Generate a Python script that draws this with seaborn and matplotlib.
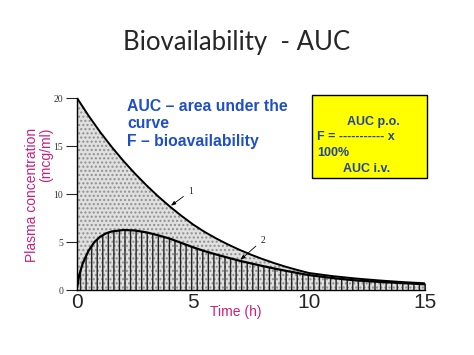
import matplotlib.pyplot as plt
import matplotlib.patches as mpatches
import pandas as pd
import seaborn as sns

# curve 1: i.v. dose, curve 2: p.o. dose
time_iv = [0, 0.5, 1, 1.5, 2, 2.5, 3, 3.5, 4, 4.5, 5, 5.5, 6, 6.5, 7, 7.5, 8, 8.5, 9, 9.5, 10,
           11, 12, 13, 14, 15]
conc_iv = [20, 18.15, 16.45, 14.89, 13.45, 12.12, 10.89, 9.75, 8.7, 7.73, 6.83, 6.05, 5.37, 4.75,
           4.19, 3.68, 3.22, 2.8, 2.42, 2.08, 1.77, 1.45, 1.2, 1.0, 0.83, 0.7]
time_po = [0, 0.1, 0.25, 0.5, 0.75, 1, 1.25, 1.5, 2, 2.5, 3, 3.5, 4, 4.5, 5, 5.5, 6, 6.5, 7, 7.5,
           8, 8.5, 9, 9.5, 10, 11, 12, 13, 14, 15]
conc_po = [0.2, 1.6, 2.8, 4.1, 5.0, 5.55, 5.9, 6.1, 6.25, 6.2, 6.0, 5.7, 5.35, 4.9, 4.45, 4.05,
           3.7, 3.37, 3.05, 2.77, 2.5, 2.24, 2.0, 1.77, 1.55, 1.25, 1.0, 0.85, 0.72, 0.6]
x_ticks = [0, 5, 10, 15]
y_ticks = [0, 5, 10, 15, 20]

iv_df = pd.DataFrame({"time": time_iv, "conc": conc_iv})
po_df = pd.DataFrame({"time": time_po, "conc": conc_po})

sns.set_style("ticks")
plt.rcParams["font.family"] = ["Liberation Sans", "DejaVu Sans"]
plt.rcParams["hatch.linewidth"] = 1.0

magenta = "#c8207f"
blue = "#1f4fc6"
box_blue = "#22449a"

fig = plt.figure(figsize=(4.74, 3.55), dpi=100)
ax = fig.add_axes([77 / 474, 1 - 290 / 355, 348 / 474, 192 / 355])

# stippled area under i.v. curve
ax.fill_between(time_iv, conc_iv, 0, facecolor="#e0e0e0", edgecolor="#8f8f8f",
                hatch="....", linewidth=0)
# vertically hatched area under oral curve
ax.fill_between(time_po, conc_po, 0, facecolor="none", edgecolor="#222222",
                hatch="|||", linewidth=0)

sns.lineplot(data=iv_df, x="time", y="conc", color="black", linewidth=1.4, ax=ax)
sns.lineplot(data=po_df, x="time", y="conc", color="black", linewidth=1.6, ax=ax)

ax.set_xlim(0, 15)
ax.set_ylim(0, 20)
ax.set_xticks(x_ticks)
ax.set_yticks(y_ticks)
ax.set_xlabel("")
ax.set_ylabel("")
ax.tick_params(axis="x", direction="in", length=5, width=0.8, labelsize=15, pad=2)
ax.tick_params(axis="y", direction="out", length=8, width=0.8, labelsize=7, pad=2,
               labelcolor="#333333")
for lab in ax.get_yticklabels():
    lab.set_family("Liberation Serif")
sns.despine(ax=ax)
for side in ["left", "bottom"]:
    ax.spines[side].set_linewidth(1.0)
    ax.spines[side].set_color("black")

# curve numbers with arrows
i1 = time_iv.index(4)
ax.annotate("1", xy=(time_iv[i1], conc_iv[i1]), xytext=(13, 9), textcoords="offset points",
            fontsize=7, family="Liberation Serif",
            arrowprops=dict(arrowstyle="-|>,head_length=0.4,head_width=0.15", color="black",
                            lw=0.6, shrinkA=1, shrinkB=1))
i2 = time_po.index(7)
ax.annotate("2", xy=(time_po[i2], conc_po[i2]), xytext=(15, 13), textcoords="offset points",
            fontsize=7, family="Liberation Serif",
            arrowprops=dict(arrowstyle="-|>,head_length=0.4,head_width=0.15", color="black",
                            lw=0.6, shrinkA=1, shrinkB=1))

fig.text(0.5, 1 - 50 / 355, "Biovailability  - AUC", ha="center", va="baseline",
         fontsize=18.5, family=["Lato", "DejaVu Sans"])

fig.text(39.5 / 474, 1 - 194.5 / 355, "Plasma concentration\n(mcg/ml)", rotation=90,
         ha="center", va="center", multialignment="right", linespacing=1.0,
         fontsize=10, color=magenta)
fig.text(210 / 474, 1 - 312 / 355, "Time (h)", ha="left", va="center", fontsize=10,
         color=magenta)

fig.text(127 / 474, 1 - 99 / 355, "AUC \u2013 area under the\ncurve\nF \u2013 bioavailability",
         ha="left", va="top", fontsize=11.3, fontweight="bold", color=blue, linespacing=1.2)

box = mpatches.Rectangle((312 / 474, 1 - 178 / 355), 115 / 474, 83 / 355, transform=fig.transFigure,
                         facecolor="#ffff00", edgecolor="black", linewidth=1.0)
fig.patches.append(box)
fig.text(373 / 474, 1 - 125 / 355, "AUC p.o.", ha="center", va="baseline", fontsize=9,
         fontweight="bold", color=box_blue)
fig.text(317 / 474, 1 - 140 / 355, "F = ----------- x", ha="left", va="baseline", fontsize=9,
         fontweight="bold", color=box_blue)
fig.text(317 / 474, 1 - 156 / 355, "100%", ha="left", va="baseline", fontsize=9,
         fontweight="bold", color=box_blue)
fig.text(367 / 474, 1 - 172 / 355, "AUC i.v.", ha="center", va="baseline", fontsize=9,
         fontweight="bold", color=box_blue)

fig.savefig("out.png", dpi=100)
